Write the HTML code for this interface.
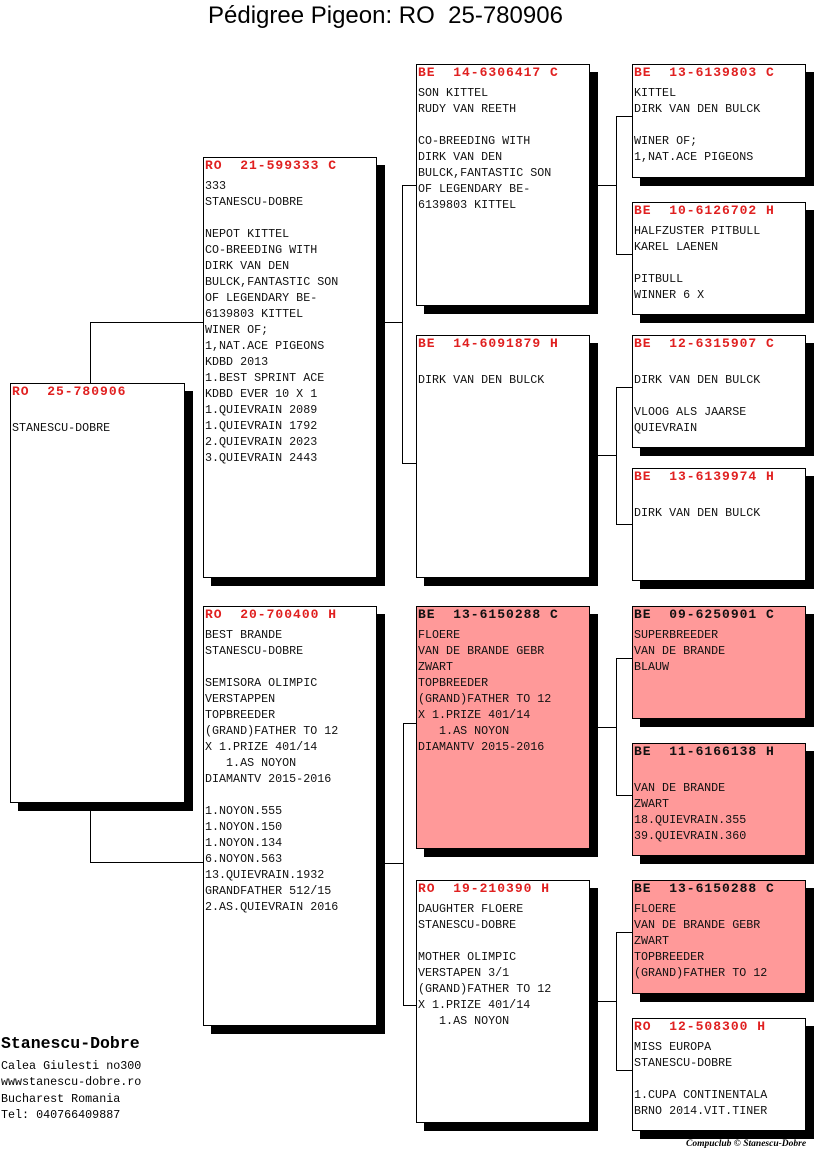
<!DOCTYPE html>
<html><head><meta charset="utf-8"><style>
body{margin:0;width:816px;height:1172px;background:#fff;position:relative;overflow:hidden;font-family:"Liberation Mono","Courier New",monospace}
.t{position:absolute;left:208px;top:2px;font-family:"Liberation Sans",sans-serif;font-size:24px;color:#000;white-space:pre}
.b{position:absolute;border:1px solid #000;background:#fff;box-shadow:8px 8px 0 #000;box-sizing:border-box;padding:0 0 0 1px}
.b.p{background:#ff9999}
.h{font-weight:bold;font-size:13px;letter-spacing:1px;line-height:16px;color:#e02020;white-space:pre;height:20px}
.p .h{color:#111}
.x{font-size:11.7px;line-height:16px;color:#111;white-space:pre}
.l{position:absolute;background:#000}
.f{position:absolute;left:1px;font-size:11.7px;line-height:16.3px;white-space:pre}
</style></head><body>
<div class="t">Pédigree Pigeon: RO  25-780906</div>

<div class="l" style="left:90px;top:322px;width:1px;height:61px"></div>
<div class="l" style="left:90px;top:322px;width:113px;height:1px"></div>
<div class="l" style="left:90px;top:802px;width:1px;height:61px"></div>
<div class="l" style="left:90px;top:862px;width:113px;height:1px"></div>

<div class="l" style="left:384px;top:322px;width:18px;height:1px"></div>
<div class="l" style="left:402px;top:185px;width:1px;height:278px"></div>
<div class="l" style="left:402px;top:185px;width:14px;height:1px"></div>
<div class="l" style="left:402px;top:463px;width:14px;height:1px"></div>

<div class="l" style="left:384px;top:863px;width:19px;height:1px"></div>
<div class="l" style="left:403px;top:723px;width:1px;height:282px"></div>
<div class="l" style="left:403px;top:723px;width:13px;height:1px"></div>
<div class="l" style="left:403px;top:1005px;width:13px;height:1px"></div>

<div class="l" style="left:597px;top:185px;width:19px;height:1px"></div>
<div class="l" style="left:616px;top:116px;width:1px;height:138px"></div>
<div class="l" style="left:616px;top:116px;width:16px;height:1px"></div>
<div class="l" style="left:616px;top:254px;width:16px;height:1px"></div>

<div class="l" style="left:597px;top:455px;width:19px;height:1px"></div>
<div class="l" style="left:616px;top:387px;width:1px;height:137px"></div>
<div class="l" style="left:616px;top:387px;width:16px;height:1px"></div>
<div class="l" style="left:616px;top:524px;width:16px;height:1px"></div>

<div class="l" style="left:597px;top:727px;width:19px;height:1px"></div>
<div class="l" style="left:616px;top:658px;width:1px;height:137px"></div>
<div class="l" style="left:616px;top:658px;width:16px;height:1px"></div>
<div class="l" style="left:616px;top:795px;width:16px;height:1px"></div>

<div class="l" style="left:597px;top:1001px;width:19px;height:1px"></div>
<div class="l" style="left:616px;top:932px;width:1px;height:138px"></div>
<div class="l" style="left:616px;top:932px;width:16px;height:1px"></div>
<div class="l" style="left:616px;top:1070px;width:16px;height:1px"></div>

<div class="b" style="left:10px;top:383px;width:175px;height:420px"><div class="h">RO  25-780906</div><div class="x">
STANESCU-DOBRE</div></div>

<div class="b" style="left:203px;top:157px;width:174px;height:421px"><div class="h">RO  21-599333 C</div><div class="x">333
STANESCU-DOBRE

NEPOT KITTEL
CO-BREEDING WITH
DIRK VAN DEN
BULCK,FANTASTIC SON
OF LEGENDARY BE-
6139803 KITTEL
WINER OF;
1,NAT.ACE PIGEONS
KDBD 2013
1.BEST SPRINT ACE
KDBD EVER 10 X 1
1.QUIEVRAIN 2089
1.QUIEVRAIN 1792
2.QUIEVRAIN 2023
3.QUIEVRAIN 2443</div></div>

<div class="b" style="left:203px;top:606px;width:174px;height:420px"><div class="h">RO  20-700400 H</div><div class="x">BEST BRANDE
STANESCU-DOBRE

SEMISORA OLIMPIC
VERSTAPPEN
TOPBREEDER
(GRAND)FATHER TO 12
X 1.PRIZE 401/14
   1.AS NOYON
DIAMANTV 2015-2016

1.NOYON.555
1.NOYON.150
1.NOYON.134
6.NOYON.563
13.QUIEVRAIN.1932
GRANDFATHER 512/15
2.AS.QUIEVRAIN 2016</div></div>

<div class="b" style="left:416px;top:64px;width:174px;height:242px"><div class="h">BE  14-6306417 C</div><div class="x">SON KITTEL
RUDY VAN REETH

CO-BREEDING WITH
DIRK VAN DEN
BULCK,FANTASTIC SON
OF LEGENDARY BE-
6139803 KITTEL</div></div>

<div class="b" style="left:416px;top:335px;width:174px;height:243px"><div class="h">BE  14-6091879 H</div><div class="x">
DIRK VAN DEN BULCK</div></div>

<div class="b p" style="left:416px;top:606px;width:174px;height:243px"><div class="h">BE  13-6150288 C</div><div class="x">FLOERE
VAN DE BRANDE GEBR
ZWART
TOPBREEDER
(GRAND)FATHER TO 12
X 1.PRIZE 401/14
   1.AS NOYON
DIAMANTV 2015-2016</div></div>

<div class="b" style="left:416px;top:880px;width:174px;height:243px"><div class="h">RO  19-210390 H</div><div class="x">DAUGHTER FLOERE
STANESCU-DOBRE

MOTHER OLIMPIC
VERSTAPEN 3/1
(GRAND)FATHER TO 12
X 1.PRIZE 401/14
   1.AS NOYON</div></div>

<div class="b" style="left:632px;top:64px;width:174px;height:114px"><div class="h">BE  13-6139803 C</div><div class="x">KITTEL
DIRK VAN DEN BULCK

WINER OF;
1,NAT.ACE PIGEONS</div></div>

<div class="b" style="left:632px;top:202px;width:174px;height:113px"><div class="h">BE  10-6126702 H</div><div class="x">HALFZUSTER PITBULL
KAREL LAENEN

PITBULL
WINNER 6 X</div></div>

<div class="b" style="left:632px;top:335px;width:174px;height:113px"><div class="h">BE  12-6315907 C</div><div class="x">
DIRK VAN DEN BULCK

VLOOG ALS JAARSE
QUIEVRAIN</div></div>

<div class="b" style="left:632px;top:468px;width:174px;height:113px"><div class="h">BE  13-6139974 H</div><div class="x">
DIRK VAN DEN BULCK</div></div>

<div class="b p" style="left:632px;top:606px;width:174px;height:113px"><div class="h">BE  09-6250901 C</div><div class="x">SUPERBREEDER
VAN DE BRANDE
BLAUW</div></div>

<div class="b p" style="left:632px;top:743px;width:174px;height:113px"><div class="h">BE  11-6166138 H</div><div class="x">
VAN DE BRANDE
ZWART
18.QUIEVRAIN.355
39.QUIEVRAIN.360</div></div>

<div class="b p" style="left:632px;top:880px;width:174px;height:114px"><div class="h">BE  13-6150288 C</div><div class="x">FLOERE
VAN DE BRANDE GEBR
ZWART
TOPBREEDER
(GRAND)FATHER TO 12</div></div>

<div class="b" style="left:632px;top:1018px;width:174px;height:113px"><div class="h">RO  12-508300 H</div><div class="x">MISS EUROPA
STANESCU-DOBRE

1.CUPA CONTINENTALA
BRNO 2014.VIT.TINER</div></div>

<div class="f" style="top:1034px;font-weight:bold;font-size:16.5px;line-height:19px">Stanescu-Dobre</div>
<div class="f" style="top:1058px">Calea Giulesti no300
wwwstanescu-dobre.ro
Bucharest Romania
Tel: 040766409887</div>
<div style="position:absolute;left:686px;top:1139px;font-family:'Liberation Serif',serif;font-style:italic;font-weight:bold;font-size:9.5px;white-space:pre">Compuclub © Stanescu-Dobre</div>
</body></html>
